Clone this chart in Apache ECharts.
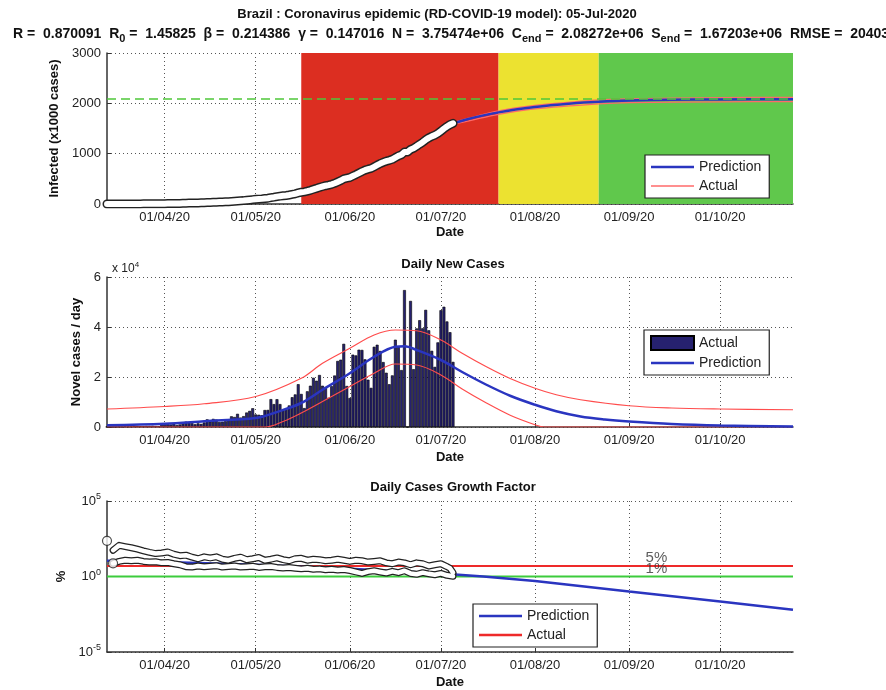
<!DOCTYPE html>
<html>
<head>
<meta charset="utf-8">
<script src="https://cdn.jsdelivr.net/npm/echarts@6/dist/echarts.min.js"></script>
<style>
  body { margin: 0; background: #fff; }
  #main { width: 886px; height: 690px; }
</style>
</head>
<body>
<div id="main"></div>
<script>
// day categories 13/03/20 .. 25/10/20
var days = [];
(function () {
    var d = new Date(Date.UTC(2020, 2, 13));
    var end = Date.UTC(2020, 9, 25);
    while (d.getTime() <= end) {
        var dd = ('0' + d.getUTCDate()).slice(-2);
        var mm = ('0' + (d.getUTCMonth() + 1)).slice(-2);
        days.push(dd + '/' + mm + '/20');
        d = new Date(d.getTime() + 86400000);
    }
})();

// actual daily new cases, 13/03 .. 05/07
var dailyCases = [
    74, 0, 11, 38, 121, 51, 249, 172, 228, 525, 378, 323, 307, 431, 432, 487, 352, 323, 1138,
    1119, 1208, 1012, 1304, 770, 1031, 1873, 2136, 1922, 1546, 1089, 1465, 1238, 1832, 3058,
    2105, 3257, 2976, 1996, 2089, 2336, 2678, 4279, 4007, 5281, 3776, 4346, 5789, 6450, 7502,
    5015, 4898, 4726, 6794, 6835, 11156, 9162, 11121, 9167, 6638, 6895, 8620, 11923, 13028,
    17126, 13220, 7569, 14288, 16517, 19694, 18508, 20803, 16508, 15813, 11687, 16324, 20599,
    26417, 26928, 33274, 16409,
    11598, 28936, 28633, 30925, 30830, 27075, 18912, 15654, 32091, 32913, 30412, 25982, 21704,
    17110, 20647, 34918, 32188, 22765, 54771, 0, 50428, 23129, 39436, 42725, 39483, 46860,
    38693, 30476, 24052, 33846,
    46712, 48105, 42223, 37923, 26051
];

// actual cumulative infected (x1000), 13/03 .. 05/07
var cumInfected = [
    0.15, 0.15, 0.16, 0.2, 0.32, 0.37, 0.62, 0.79, 1.02, 1.55, 1.92, 2.25, 2.55, 2.99, 3.42, 3.9, 4.26, 4.58, 5.72,
    6.84, 8.04, 9.06, 10.36, 11.13, 12.16, 14.03, 16.17, 18.09, 19.64, 20.73, 22.19, 23.43, 25.26, 28.32,
    30.43, 33.68, 36.66, 38.65, 40.74, 43.08, 45.76, 50.04, 54.04, 59.32, 63.1, 67.45, 73.24, 79.69, 87.19,
    92.2, 97.1, 101.83, 108.62, 115.46, 126.61, 135.77, 146.89, 156.06, 162.7, 169.59, 178.21, 190.14,
    203.17, 220.29, 233.51, 241.08, 255.37, 271.89, 291.58, 310.09, 330.89, 347.4, 363.21, 374.9,
    391.22, 411.82, 438.24, 465.17, 498.44, 514.85,
    526.45, 555.38, 584.02, 614.94, 645.77, 672.85, 691.76, 707.41, 739.5, 772.42, 802.83, 828.81,
    850.51, 867.62, 888.27, 923.19, 955.38, 978.14, 1032.91, 1032.91, 1083.34, 1106.47, 1145.91,
    1188.63, 1228.11, 1274.97, 1313.67, 1344.14, 1368.2, 1402.04,
    1448.75, 1496.86, 1539.08, 1577.0, 1603.06
];

// model curves, top panel (x1000)
var predInfected = [
    ['05/07/20', 1600], ['10/07/20', 1690], ['20/07/20', 1820], ['01/08/20', 1925], ['13/08/20', 1995],
    ['22/08/20', 2030], ['01/09/20', 2055], ['15/09/20', 2070], ['01/10/20', 2078], ['25/10/20', 2082]
];
var upperInfected = [
    ['05/07/20', 1620], ['20/07/20', 1850], ['01/08/20', 1960], ['22/08/20', 2070], ['01/09/20', 2090],
    ['01/10/20', 2115], ['25/10/20', 2120]
];
var lowerInfected = [
    ['05/07/20', 1580], ['20/07/20', 1780], ['01/08/20', 1890], ['22/08/20', 1990], ['01/09/20', 2015],
    ['01/10/20', 2030], ['25/10/20', 2035]
];
var cEnd = 2082.72;

// model curves, daily new cases
var predDaily = [
    ['13/03/20', 700], ['01/04/20', 1300], ['14/04/20', 2300], ['01/05/20', 3600], ['07/05/20', 5600],
    ['16/05/20', 9600], ['23/05/20', 14900], ['01/06/20', 21500], ['09/06/20', 28100], ['16/06/20', 32100],
    ['19/06/20', 32300], ['23/06/20', 30800], ['01/07/20', 26800], ['08/07/20', 22000], ['16/07/20', 16900],
    ['24/07/20', 12400], ['01/08/20', 8900], ['08/08/20', 6300], ['16/08/20', 4200], ['24/08/20', 3000],
    ['01/09/20', 2200], ['15/09/20', 1200], ['01/10/20', 600], ['25/10/20', 200]
];
var upperDaily = [
    ['13/03/20', 7200], ['01/04/20', 8200], ['14/04/20', 9300], ['01/05/20', 12200], ['16/05/20', 19500],
    ['23/05/20', 25500], ['01/06/20', 31500], ['09/06/20', 36800], ['16/06/20', 38800], ['23/06/20', 38500],
    ['01/07/20', 34800], ['08/07/20', 29500], ['16/07/20', 24100], ['24/07/20', 19300], ['01/08/20', 15500],
    ['08/08/20', 12900], ['16/08/20', 10900], ['01/09/20', 8500], ['15/09/20', 7600], ['01/10/20', 7200],
    ['25/10/20', 6900]
];
var lowerDaily = [
    ['13/03/20', 0], ['04/05/20', 0], ['10/05/20', 2200], ['16/05/20', 5600], ['23/05/20', 10200],
    ['01/06/20', 16200], ['09/06/20', 21500], ['16/06/20', 25200], ['23/06/20', 24800], ['01/07/20', 20800],
    ['08/07/20', 15200], ['16/07/20', 9600], ['24/07/20', 4600], ['01/08/20', 900], ['04/08/20', 0], ['25/10/20', 0]
];

// growth factor (%)
var growthUpper = [
    ['15/03/20', 55], ['17/03/20', 115], ['19/03/20', 95], ['21/03/20', 80], ['23/03/20', 65], ['25/03/20', 50],
    ['27/03/20', 40], ['29/03/20', 33], ['31/03/20', 36], ['02/04/20', 42], ['04/04/20', 30], ['06/04/20', 24],
    ['08/04/20', 26], ['10/04/20', 19], ['12/04/20', 15], ['14/04/20', 20], ['16/04/20', 17], ['18/04/20', 20],
    ['20/04/20', 14], ['22/04/20', 12], ['24/04/20', 16], ['26/04/20', 19], ['28/04/20', 13], ['30/04/20', 15],
    ['02/05/20', 18], ['04/05/20', 12], ['06/05/20', 14], ['08/05/20', 17], ['10/05/20', 13], ['12/05/20', 11],
    ['14/05/20', 15], ['16/05/20', 16], ['18/05/20', 12], ['20/05/20', 14], ['22/05/20', 13], ['24/05/20', 11],
    ['26/05/20', 12], ['28/05/20', 14], ['30/05/20', 12], ['01/06/20', 10], ['03/06/20', 12], ['05/06/20', 11],
    ['07/06/20', 9], ['09/06/20', 10], ['11/06/20', 11], ['13/06/20', 8], ['15/06/20', 7], ['17/06/20', 9],
    ['19/06/20', 8], ['21/06/20', 6], ['23/06/20', 8], ['25/06/20', 7], ['27/06/20', 5], ['29/06/20', 6],
    ['01/07/20', 7], ['03/07/20', 4.5], ['04/07/20', 3.5], ['05/07/20', 1.8]
];
var growthLower = [
    ['15/03/20', 7.5], ['17/03/20', 10], ['19/03/20', 12], ['21/03/20', 11], ['23/03/20', 12], ['25/03/20', 10],
    ['27/03/20', 9], ['29/03/20', 9.5], ['31/03/20', 8], ['02/04/20', 8.5], ['04/04/20', 7], ['06/04/20', 6],
    ['08/04/20', 4.5], ['10/04/20', 4.2], ['12/04/20', 5], ['14/04/20', 4.4], ['16/04/20', 4.8], ['18/04/20', 5.2],
    ['20/04/20', 4.2], ['22/04/20', 4.6], ['24/04/20', 5], ['26/04/20', 4.3], ['28/04/20', 4.5], ['30/04/20', 4.8],
    ['02/05/20', 4], ['04/05/20', 4.4], ['06/05/20', 4.6], ['08/05/20', 4], ['10/05/20', 3.6], ['12/05/20', 3.9],
    ['14/05/20', 3.5], ['16/05/20', 3.2], ['18/05/20', 3.5], ['20/05/20', 3], ['22/05/20', 3.2], ['24/05/20', 2.8],
    ['26/05/20', 3], ['28/05/20', 2.7], ['30/05/20', 2.9], ['01/06/20', 2.5], ['03/06/20', 2], ['05/06/20', 1.6],
    ['07/06/20', 2.1], ['09/06/20', 2.4], ['11/06/20', 2], ['13/06/20', 1.7], ['15/06/20', 2.2], ['17/06/20', 1.8],
    ['19/06/20', 2.4], ['21/06/20', 1.6], ['23/06/20', 1.4], ['25/06/20', 1.8], ['27/06/20', 1.5], ['29/06/20', 1.3],
    ['01/07/20', 1.6], ['03/07/20', 1.2], ['05/07/20', 1.05]
];
var growthStart = [['13/03/20', 230], ['15/03/20', 7.5]];
var predGrowth = [
    ['13/03/20', 11], ['01/04/20', 9], ['01/05/20', 6], ['01/06/20', 3.2], ['01/07/20', 1.6], ['15/07/20', 1.0],
    ['01/08/20', 0.5], ['01/09/20', 0.1], ['01/10/20', 0.022], ['25/10/20', 0.0062]
];
var level5 = 5, level1 = 1;

// phase bands on the top panel
var phases = [
    ['16/05/20', '20/07/20', '#dc2e21'],
    ['20/07/20', '22/08/20', '#ece230'],
    ['22/08/20', '25/10/20', '#60c84c']
];

var FONT = 'Liberation Sans, Arial, sans-serif';
var blue = '#2a35c0', red = '#ff4c4c';

function isMonthStart(i, v) { return v.slice(0, 3) === '01/'; }
function lineIcon(h) { return 'path://M0,0L43,0L43,' + h + 'L0,' + h + 'Z'; }

function xAxisFor(gi, gap) {
    return {
        type: 'category', gridIndex: gi, data: days, boundaryGap: false,
        name: 'Date', nameLocation: 'middle', nameGap: gap,
        nameTextStyle: { fontWeight: 'bold', fontSize: 13, color: '#111', fontFamily: FONT },
        axisLine: { lineStyle: { color: '#333', width: 1.5 } },
        axisTick: { inside: true, length: 4, interval: isMonthStart, lineStyle: { color: '#333' } },
        axisLabel: { interval: isMonthStart, fontSize: 13, color: '#222', margin: 7, fontFamily: FONT },
        splitLine: { show: true, interval: isMonthStart, lineStyle: { type: [1, 3], color: '#555' } }
    };
}
function yBase(gi, name, gap) {
    return {
        gridIndex: gi, name: name, nameLocation: 'middle', nameGap: gap,
        nameTextStyle: { fontWeight: 'bold', fontSize: 13, color: '#111', fontFamily: FONT },
        axisLine: { show: true, lineStyle: { color: '#333', width: 1.5 } },
        axisTick: { show: true, inside: true, length: 4, lineStyle: { color: '#333' } },
        axisLabel: { fontSize: 13, color: '#222', margin: 6, fontFamily: FONT },
        splitLine: { show: true, lineStyle: { type: [1, 3], color: '#555' } }
    };
}

var yTop = yBase(0, 'Infected (x1000 cases)', 40);
yTop.type = 'value'; yTop.min = 0; yTop.max = 3000; yTop.interval = 1000;
yTop.axisLabel.formatter = function (v) { return String(v); };
var yMid = yBase(1, 'Novel cases / day', 17);
yMid.type = 'value'; yMid.min = 0; yMid.max = 60000; yMid.interval = 20000;
yMid.axisLabel.formatter = function (v) { return String(v / 10000); };
var yBot = yBase(2, '%', 36);
yBot.type = 'log'; yBot.logBase = 10; yBot.min = 1e-5; yBot.max = 1e5; yBot.splitNumber = 2;
yBot.axisLabel.formatter = function (v) { return '10{s|' + Math.round(Math.log10(v)) + '}'; };
yBot.axisLabel.rich = { s: { fontSize: 9, padding: [0, 0, 8, 0], fontFamily: FONT, color: '#222' } };

function tube(name, data, gi, outer, inner, z) {
    return [
        { name: name + '_o', type: 'line', xAxisIndex: gi, yAxisIndex: gi, data: data, symbol: 'none',
          lineStyle: { color: '#222', width: outer, cap: 'round', join: 'round' }, z: z, silent: true },
        { name: name + '_i', type: 'line', xAxisIndex: gi, yAxisIndex: gi, data: data, symbol: 'none',
          lineStyle: { color: '#fff', width: inner, cap: 'round', join: 'round' }, z: z + 1, silent: true }
    ];
}

var legendCommon = {
    orient: 'vertical', backgroundColor: '#fff', borderColor: '#222', borderWidth: 1.2,
    padding: [5, 8, 5, 6], itemGap: 5, itemWidth: 43, itemHeight: 14,
    textStyle: { fontSize: 14, color: '#222', fontFamily: FONT },
    formatter: function (n) { return n.split('_')[0]; }
};

var myChart = echarts.init(document.getElementById('main'));
option = {
    backgroundColor: '#fff',
    animation: false,
    title: [
        { text: 'Brazil : Coronavirus epidemic (RD-COVID-19 model): 05-Jul-2020', left: 432, top: 3, textAlign: 'center',
          textStyle: { fontSize: 13, fontWeight: 'bold', color: '#111', fontFamily: FONT } },
        { text: 'R =  0.870091  R{sub|0} =  1.45825  \u03b2 =  0.214386  \u03b3 =  0.147016  N =  3.75474e+06  C{sub|end} =  2.08272e+06  S{sub|end} =  1.67203e+06  RMSE =  20403',
          left: 8, top: 20,
          textStyle: { fontSize: 14, fontWeight: 'bold', color: '#111', fontFamily: FONT,
              rich: { sub: { fontSize: 11, fontWeight: 'bold', padding: [8, 0, 0, 0], color: '#111', fontFamily: FONT } } } },
        { text: 'x 10{s|4}', left: 107, top: 256,
          textStyle: { fontSize: 12, fontWeight: 'normal', color: '#222', fontFamily: FONT,
              rich: { s: { fontSize: 8, padding: [0, 0, 8, 0], color: '#222', fontFamily: FONT } } } },
        { text: 'Daily New Cases', left: 448, top: 253, textAlign: 'center',
          textStyle: { fontSize: 13, fontWeight: 'bold', color: '#111', fontFamily: FONT } },
        { text: 'Daily Cases Growth Factor', left: 448, top: 476, textAlign: 'center',
          textStyle: { fontSize: 13, fontWeight: 'bold', color: '#111', fontFamily: FONT } }
    ],
    legend: [
        Object.assign({}, legendCommon, { left: 645, top: 155, data: [
            { name: 'Prediction_top', icon: lineIcon(2.5) }, { name: 'Actual_top', icon: lineIcon(1.5) }] }),
        Object.assign({}, legendCommon, { left: 644, top: 330, data: [
            { name: 'Actual_mid', icon: 'rect' }, { name: 'Prediction_mid', icon: lineIcon(2.5) }] }),
        Object.assign({}, legendCommon, { left: 473, top: 604, data: [
            { name: 'Prediction_bot', icon: lineIcon(2.5) }, { name: 'Actual_bot', icon: lineIcon(2.5) }] })
    ],
    grid: [
        { left: 107, right: 93, top: 53, height: 151 },
        { left: 107, right: 93, top: 277, height: 150 },
        { left: 107, right: 93, top: 501, height: 151 }
    ],
    xAxis: [xAxisFor(0, 22), xAxisFor(1, 24), xAxisFor(2, 24)],
    yAxis: [yTop, yMid, yBot],
    series: [
        // top panel
        { name: 'Prediction_top', type: 'line', xAxisIndex: 0, yAxisIndex: 0, data: predInfected,
          symbol: 'none', smooth: 0.3, lineStyle: { color: blue, width: 2.5 }, itemStyle: { color: blue }, z: 4,
          markArea: { silent: true, data: phases.map(function (p) {
              return [{ xAxis: p[0], itemStyle: { color: p[2] } }, { xAxis: p[1] }];
          }) },
          markLine: { silent: true, symbol: 'none', label: { show: false },
              lineStyle: { color: '#4fc83a', type: [9, 5], width: 1.5 }, data: [{ yAxis: cEnd }] } },
        { name: 'Actual_top', type: 'line', xAxisIndex: 0, yAxisIndex: 0, data: upperInfected,
          symbol: 'none', smooth: 0.3, lineStyle: { color: '#ff6a6a', width: 1.2 }, itemStyle: { color: '#ff6a6a' }, z: 3 },
        { name: 'Actual_top', type: 'line', xAxisIndex: 0, yAxisIndex: 0, data: lowerInfected,
          symbol: 'none', smooth: 0.3, lineStyle: { color: '#ff6a6a', width: 1.2 }, itemStyle: { color: '#ff6a6a' }, z: 3 }
    ].concat(tube('cum', cumInfected, 0, 9, 6, 5)).concat([
        // middle panel
        { name: 'Actual_mid', type: 'bar', xAxisIndex: 1, yAxisIndex: 1, data: dailyCases, barWidth: '95%',
          itemStyle: { color: '#26216f', borderColor: '#000', borderWidth: 0.6 }, z: 2 },
        { name: 'Prediction_mid', type: 'line', xAxisIndex: 1, yAxisIndex: 1, data: predDaily, symbol: 'none',
          smooth: 0.35, lineStyle: { color: blue, width: 2.5 }, itemStyle: { color: blue }, z: 4 },
        { name: 'upper_mid', type: 'line', xAxisIndex: 1, yAxisIndex: 1, data: upperDaily, symbol: 'none',
          smooth: 0.35, lineStyle: { color: red, width: 1.2 }, z: 3 },
        { name: 'lower_mid', type: 'line', xAxisIndex: 1, yAxisIndex: 1, data: lowerDaily, symbol: 'none',
          smooth: 0.35, lineStyle: { color: red, width: 1.2 }, z: 3 },
        // bottom panel
        { name: 'Actual_bot', type: 'line', xAxisIndex: 2, yAxisIndex: 2,
          data: [[days[0], level5], [days[days.length - 1], level5]], symbol: 'none',
          lineStyle: { color: '#ee2a2a', width: 2 }, itemStyle: { color: '#ee2a2a' }, z: 3 },
        { name: 'one_bot', type: 'line', xAxisIndex: 2, yAxisIndex: 2,
          data: [[days[0], level1], [days[days.length - 1], level1]], symbol: 'none',
          lineStyle: { color: '#3ccc3c', width: 2 }, z: 3 },
        { name: 'Prediction_bot', type: 'line', xAxisIndex: 2, yAxisIndex: 2, data: predGrowth, symbol: 'none',
          lineStyle: { color: blue, width: 2.5 }, itemStyle: { color: blue }, z: 4 }
    ]).concat(tube('gUp', growthUpper, 2, 7, 4.5, 6)).concat(tube('gLo', growthLower, 2, 7, 4.5, 6)).concat([
        { name: 'start_bot', type: 'scatter', xAxisIndex: 2, yAxisIndex: 2, data: growthStart, symbolSize: 9,
          itemStyle: { color: '#fff', borderColor: '#222', borderWidth: 1.2 }, z: 8 },
        { name: 'labels_bot', type: 'scatter', xAxisIndex: 2, yAxisIndex: 2, symbolSize: 1,
          itemStyle: { color: 'rgba(0,0,0,0)' }, z: 8, silent: true,
          label: { show: true, position: 'top', distance: 0, fontSize: 15, color: '#333', fontFamily: FONT,
              formatter: function (p) { return p.value[1] + '%'; } },
          data: [['10/09/20', level5], ['10/09/20', level1]] }
    ])
};
myChart.setOption(option);
</script>
</body>
</html>
